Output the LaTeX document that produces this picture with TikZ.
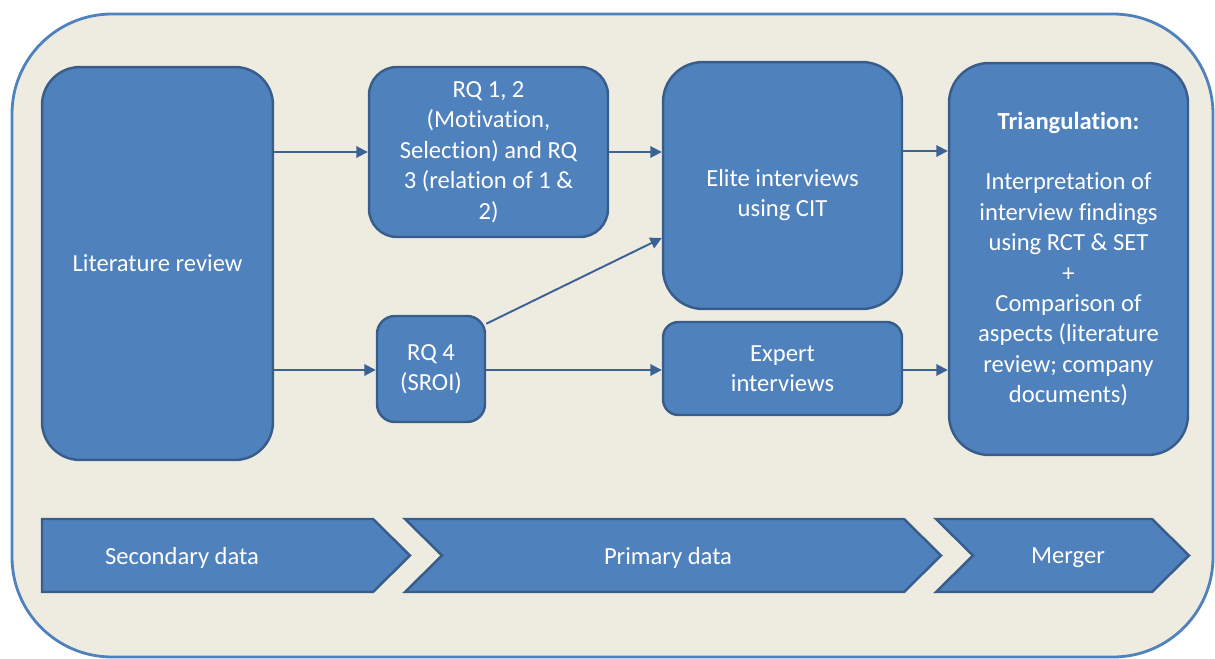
\documentclass[tikz,border=0pt]{standalone}
\usepackage{fontspec}
\setmainfont[Ligatures=NoCommon]{Carlito}
\usetikzlibrary{positioning,calc,arrows.meta}
\definecolor{PaneBeige}{RGB}{238,236,225}
\definecolor{PaneEdge}{RGB}{79,129,189}
\definecolor{StepBlue}{RGB}{79,129,189}
\definecolor{StepEdge}{RGB}{56,93,138}
\definecolor{LinkBlue}{RGB}{59,98,148}
\tikzset{
  pane/.style={draw=PaneEdge,fill=PaneBeige,line width=1.6pt,rounded corners=2cm},
  stepbox/.style={draw=StepEdge,fill=StepBlue,line width=1.4pt,text=white,align=center,
    font=\fontsize{14}{17.3}\selectfont,inner sep=2pt},
  phase/.style={draw=StepEdge,fill=StepBlue,line width=1.4pt,line join=miter},
  phasetext/.style={text=white,font=\fontsize{14}{17.3}\selectfont},
  link/.style={draw=LinkBlue,line width=1.1pt,-{Triangle[length=6.5pt,width=6.5pt]}},
}
\begin{document}
\begin{tikzpicture}[x=0.02cm,y=-0.02cm]
        \useasboundingbox (0,0) rectangle (1215,659);
        \draw[pane] (12,14) rectangle (1213,657);
        \node[stepbox,minimum width=4.62cm,minimum height=7.86cm,rounded corners=0.76cm]
          (lit) at (157.5,263.5) {Literature review};
        \node[stepbox,minimum width=4.78cm,minimum height=3.4cm,rounded corners=0.56cm]
          (rq12) at (488.5,152) {RQ 1, 2\\(Motivation,\\Selection) and RQ\\3 (relation of 1 \&\\2)};
        \node[stepbox,minimum width=2.16cm,minimum height=2.12cm,rounded corners=0.36cm]
          (rq4) at (431,369) {RQ 4\\(SROI)};
        \node[stepbox,minimum width=4.78cm,minimum height=4.94cm,rounded corners=0.8cm,
          label={[phasetext,align=center,yshift=-0.19cm]center:Elite interviews\\using CIT}]
          (elite) at (782.5,185.5) {};
        \node[stepbox,minimum width=4.78cm,minimum height=1.86cm,rounded corners=0.31cm]
          (expert) at (782.5,368.5) {Expert\\interviews};
        \node[stepbox,minimum width=4.78cm,minimum height=7.84cm,rounded corners=0.8cm]
          (tri) at (1068.5,259) {\textbf{Triangulation:}\\[17.3pt]Interpretation of\\interview findings\\using RCT \& SET\\+\\Comparison of\\aspects (literature\\review; company\\documents)};
        \coordinate (upper) at (0,152);
        \coordinate (lower) at (0,370);
        \draw[link] (lit.east |- upper) -- (rq12.west |- upper);
        \draw[link] (lit.east |- lower) -- (rq4.west |- lower);
        \draw[link] (rq12.east |- upper) -- (elite.west |- upper);
        \draw[link] ($(rq4.north east)+(0,9)$) -- ($(elite.west)+(0,52.5)$);
        \draw[link] (rq4.east |- lower) -- (expert.west |- lower);
        \draw[link] ($(elite.east)+(0,-34.5)$) -- ($(tri.west)+(0,-108)$);
        \draw[link] (expert.east |- lower) -- (tri.west |- lower);
        \draw[phase] (42,519) -- (373,519) -- (410,555.5) -- (373,592) -- (42,592) -- cycle;
        \foreach \a/\b in {405/904,936/1152}
          \draw[phase] (\a,519) -- (\b,519) -- (\b+37,555.5) -- (\b,592) -- (\a,592) -- (\a+37,555.5) -- cycle;
        \node[phasetext] (secondary) at (182,558) {Secondary data};
        \node[phasetext] (primary) at (668,558) {Primary data};
        \node[phasetext] (merger) at (1068,558) {Merger};
      \end{tikzpicture}
\end{document}
